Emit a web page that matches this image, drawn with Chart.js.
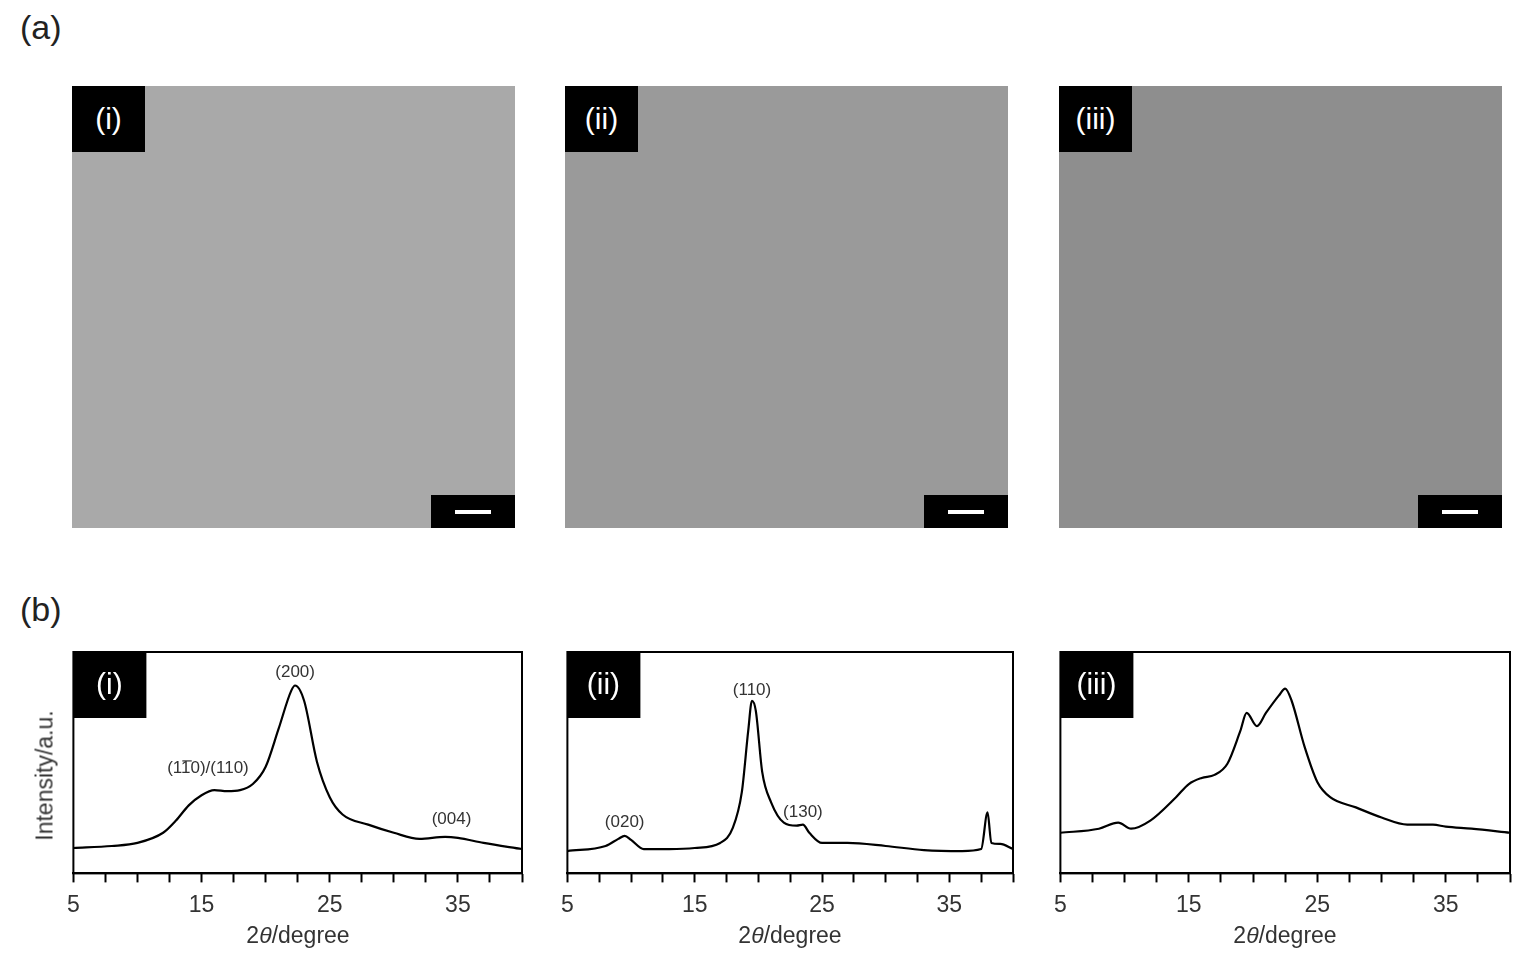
<!DOCTYPE html>
<html lang="en">
<head>
<meta charset="UTF-8">
<title>TEM and XRD</title>
<script src="https://cdn.jsdelivr.net/npm/chart.js@4.4.0/dist/chart.umd.min.js"></script>
<style>
    body { margin: 0; background: #fff; font-family: Arial, "Liberation Sans", sans-serif; }
    .abs { position: absolute; }
    .tem { position: absolute; top: 86px; width: 443px; height: 442px; background: #a9a9a9; }
    .tem.b { background: #9a9a9a; }
    .tem.c { background: #8e8e8e; }
    .lab { position: absolute; background: #000; color: #fff; font-size: 30px; text-align: center; line-height: 66px; width: 73px; height: 66px; left: 0; top: 0; }
    .bar { position: absolute; right: 0; bottom: 0; width: 84px; height: 33px; background: #000; }
    .bar i { position: absolute; left: 24px; top: 15px; width: 36px; height: 4px; background: #fff; }
    .xt { position: absolute; top: 922px; font-size: 23px; color: #333; width: 200px; text-align: center; }
    .panel { position: absolute; font-size: 34px; color: #222; }
</style>
</head>
<body>
<div class="panel" style="left:20px;top:8px">(a)</div>
<div class="panel" style="left:20px;top:590px">(b)</div>

<div class="tem" style="left:72px"><div class="lab">(i)</div><div class="bar"><i></i></div></div>
<div class="tem b" style="left:565px"><div class="lab">(ii)</div><div class="bar"><i></i></div></div>
<div class="tem c" style="left:1059px"><div class="lab">(iii)</div><div class="bar"><i></i></div></div>

<canvas id="c1" class="abs" style="left:58px;top:640px" width="477" height="288"></canvas>
<canvas id="c2" class="abs" style="left:552px;top:640px" width="474" height="288"></canvas>
<canvas id="c3" class="abs" style="left:1045px;top:640px" width="478" height="288"></canvas>

<div class="xt" style="left:198px">2<i>θ</i>/degree</div>
<div class="xt" style="left:690px">2<i>θ</i>/degree</div>
<div class="xt" style="left:1185px">2<i>θ</i>/degree</div>
<div class="abs" style="left:-50px;top:762px;width:190px;text-align:center;font-size:23px;color:#333;transform:rotate(-90deg)">Intensity/a.u.</div>

<script>
// 2theta positions (degree) and intensities (a.u.)
var x1 = [5, 8, 10, 12, 13, 14, 15, 16, 17, 18, 19, 20, 21, 22, 22.3, 23, 24, 25, 26, 28, 30, 32, 34, 35, 37, 40];
var y1 = [25, 27, 30, 40, 52, 67, 77, 82, 81, 82, 88, 105, 142, 180, 185, 170, 110, 75, 58, 48, 40, 34, 36, 35, 30, 24];

var x2 = [5, 8, 9, 9.5, 10, 11, 13, 15, 17, 18, 18.7, 19.2, 19.5, 19.8, 20.3, 21, 22, 23, 23.5, 24, 25, 27, 30, 33, 36, 37.5, 38, 38.3, 39, 40];
var y2 = [22, 27, 34, 37, 33, 24, 24, 25, 30, 45, 80, 140, 170, 160, 100, 70, 50, 47, 48, 40, 30, 30, 27, 23, 22, 24, 60, 30, 29, 24];

var x3 = [5, 8, 9.5, 10.5, 12, 14, 15, 16, 17, 18, 19, 19.5, 20.3, 21, 22, 22.5, 23, 24, 25, 26, 28, 30, 32, 34, 35, 37, 40];
var y3 = [40, 44, 50, 44, 52, 75, 88, 94, 97, 108, 140, 158, 145, 158, 175, 182, 170, 125, 90, 75, 65, 55, 48, 48, 46, 44, 40];

var tickLabels = [5, 15, 25, 35];

// [text, x, y, overlined character index or -1]
var peaks1 = [["(110)/(110)", 15.5, 95, 2], ["(200)", 22.3, 190, -1], ["(004)", 34.5, 45, -1]];
var peaks2 = [["(020)", 9.5, 42, -1], ["(110)", 19.5, 172, -1], ["(130)", 23.5, 52, -1]];
var peaks3 = [];

var boxPlugin = {
    id: 'box',
    afterDraw: function (chart) {
        var a = chart.chartArea, ctx = chart.ctx;
        ctx.save();
        ctx.strokeStyle = '#000';
        ctx.lineWidth = 2;
        ctx.strokeRect(a.left, a.top, a.right - a.left, a.bottom - a.top);
        var peaks = chart.options.plugins.box.peaks;
        ctx.fillStyle = '#333';
        ctx.strokeStyle = '#333';
        ctx.lineWidth = 1.2;
        ctx.font = '17px Arial';
        ctx.textAlign = 'left';
        ctx.textBaseline = 'bottom';
        peaks.forEach(function (p) {
            var w = ctx.measureText(p[0]).width;
            var px = chart.scales.x.getPixelForValue(p[1]) - w / 2;
            var py = chart.scales.y.getPixelForValue(p[2]);
            ctx.fillText(p[0], px, py);
            if (p[3] >= 0) {
                var x0 = px + ctx.measureText(p[0].slice(0, p[3])).width;
                var cw = ctx.measureText(p[0].charAt(p[3])).width;
                ctx.beginPath();
                ctx.moveTo(x0, py - 16);
                ctx.lineTo(x0 + cw, py - 16);
                ctx.stroke();
            }
        });
        // black label box
        var txt = chart.options.plugins.box.label;
        ctx.fillStyle = '#000';
        ctx.fillRect(a.left, a.top, 73, 66);
        ctx.fillStyle = '#fff';
        ctx.font = '30px Arial';
        ctx.textAlign = 'center';
        ctx.textBaseline = 'middle';
        ctx.fillText(txt, a.left + 36, a.top + 34);
        ctx.restore();
    }
};

function makeChart(id, xs, ys, peaks, label) {
    var pts = xs.map(function (x, i) { return {x: x, y: ys[i]}; });
    new Chart(document.getElementById(id), {
        type: 'line',
        data: { datasets: [{ data: pts, borderColor: '#000', borderWidth: 2.2, pointRadius: 0, tension: 0.4, cubicInterpolationMode: 'monotone' }] },
        options: {
            responsive: false,
            animation: false,
            layout: { padding: { left: 13, right: 13, top: 12, bottom: 0 } },
            plugins: { legend: { display: false }, tooltip: { enabled: false }, box: { peaks: peaks, label: label } },
            scales: {
                x: {
                    type: 'linear', min: 5, max: 40,
                    border: { color: '#000', width: 2 },
                    grid: { drawOnChartArea: false, tickLength: 9, color: '#000', tickWidth: 2 },
                    ticks: {
                        stepSize: 2.5, autoSkip: false, maxRotation: 0, color: '#333', font: { size: 23 }, padding: 9,
                        callback: function (v) { return tickLabels.indexOf(v) >= 0 ? String(v) : ''; }
                    }
                },
                y: { display: false, min: 0, max: 218 }
            }
        },
        plugins: [boxPlugin]
    });
}

makeChart('c1', x1, y1, peaks1, '(i)');
makeChart('c2', x2, y2, peaks2, '(ii)');
makeChart('c3', x3, y3, peaks3, '(iii)');
</script>
</body>
</html>
